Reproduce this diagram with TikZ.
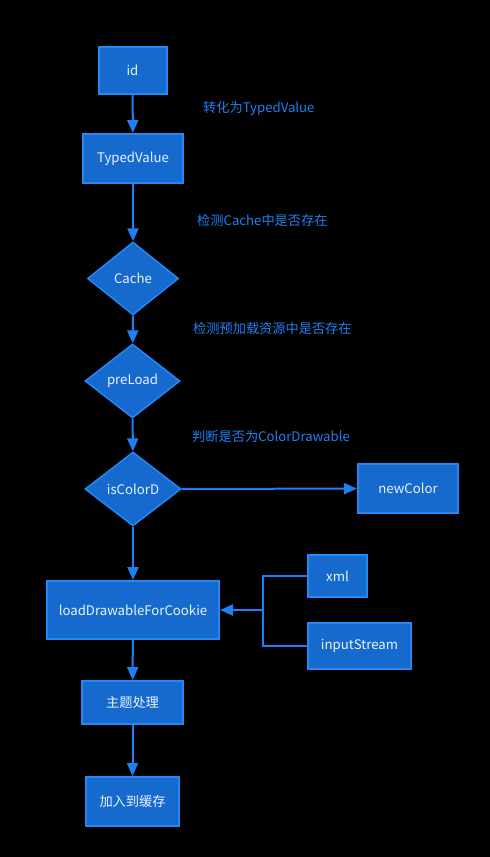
\documentclass[tikz,border=0pt]{standalone}
\usepackage{fontspec}
\setmainfont{Noto Sans CJK SC}
\usetikzlibrary{shapes.geometric,arrows.meta}
\definecolor{boxfill}{RGB}{22,106,206}
\definecolor{boxline}{RGB}{36,136,245}
\definecolor{arrowc}{RGB}{30,128,245}
\definecolor{labc}{RGB}{32,128,240}
\definecolor{txt}{RGB}{235,242,255}
\begin{document}
\begin{tikzpicture}[x=1pt,y=-1pt,
  every node/.style={font=\fontsize{13.2}{15}\selectfont},
  procbox/.style={draw=boxline,line width=2pt,fill=boxfill,text=txt,inner sep=0pt,minimum width=#1},
  dec/.style={diamond,draw=boxline,line width=1.5pt,fill=boxfill,text=txt,inner sep=0pt,minimum width=94pt,minimum height=74pt},
  lab/.style={text=labc,inner sep=0pt,anchor=west},
  flow/.style={draw=arrowc,line width=2pt,-{Triangle[width=11pt,length=13pt]}},
  link/.style={draw=arrowc,line width=2pt}
]
\fill[black] (0,0) rectangle (490,857);
\useasboundingbox (0,0) rectangle (490,857);

\node[procbox=68pt,minimum height=47pt] (id) at (132.5,70.5) {id};
\node[procbox=100pt,minimum height=49pt] (tv) at (133,158.5) {TypedValue};
\node[dec,minimum width=91pt,minimum height=73pt] (cache) at (133,278.5) {Cache};
\node[dec,minimum width=95pt] (pre) at (132.5,381) {preLoad};
\node[dec,minimum width=96pt] (isc) at (133,489) {isColorD};
\node[procbox=100pt,minimum height=49pt] (nc) at (408,488.5) {newColor};
\node[procbox=172pt,minimum height=58pt] (ld) at (133,610) {loadDrawableForCookie};
\node[procbox=59pt,minimum height=42pt] (xml) at (337.5,576) {xml};
\node[procbox=103pt,minimum height=46pt] (is) at (359.5,646) {inputStream};
\node[procbox=101pt,minimum height=43pt] (th) at (132.5,702.5) {主题处理};
\node[procbox=93pt,minimum height=49pt] (hc) at (132.5,801.5) {加入到缓存};

\node[lab] (l1) at (203,108) {转化为TypedValue};
\node[lab] (l2) at (197,220.5) {检测Cache中是否存在};
\node[lab] (l3) at (193,328) {检测预加载资源中是否存在};
\node[lab] (l4) at (192,437) {判断是否为ColorDrawable};

\draw[flow] (id) -- (tv);
\draw[flow] (tv) -- (cache);
\draw[flow] (cache) -- (pre);
\draw[flow] (pre) -- (isc);
\draw[flow] (isc) -- (nc);
\draw[flow] (isc) -- (ld);
\coordinate (j) at (263,610);
\draw[link] (xml.west) -| (j) |- (is.west);
\draw[flow] (j) -- (ld);
\draw[flow] (ld) -- (th);
\draw[flow] (th) -- (hc);
\end{tikzpicture}
\end{document}
